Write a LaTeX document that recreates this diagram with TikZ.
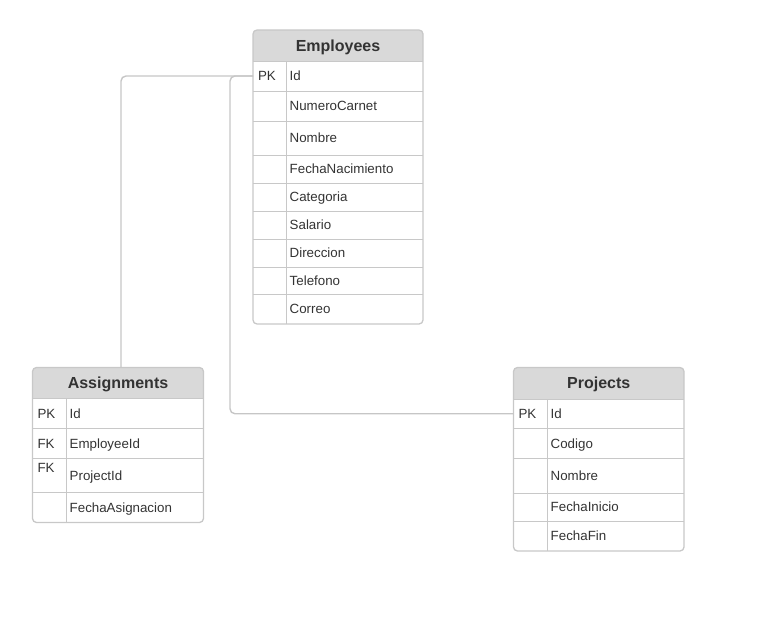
\documentclass[tikz,border=0pt]{standalone}
\usepackage{fontspec}
\setmainfont{Liberation Sans}
\usetikzlibrary{calc}
\definecolor{hdr}{HTML}{D9D9D9}
\definecolor{brd}{HTML}{C8C8C8}
\definecolor{txt}{HTML}{333333}
\definecolor{conn}{HTML}{C6C6C6}
\tikzset{
  tblframe/.style={draw=brd, line width=1.3pt, rounded corners=4pt},
  hdrfill/.style={fill=hdr},
  gridline/.style={draw=brd, line width=1pt},
  hdrtext/.style={font=\fontsize{16}{16}\selectfont\bfseries, text=txt, inner sep=0pt, anchor=base},
  bodytext/.style={font=\fontsize{13.33}{13.33}\selectfont, text=txt, inner sep=0pt, anchor=base west},
  rowbox/.style={draw=none, inner sep=0pt, outer sep=0pt},
  connector/.style={draw=conn, line width=1.4pt, rounded corners=5pt},
}
% #1 name, #2 left, #3 divider, #4 right, #5 top, #6 bottom, #7 key, #8 field
\newcommand{\erdrow}[8]{%
  \pgfmathsetmacro{\rc}{(#5+#6)/2}%
  \pgfmathsetmacro{\rx}{(#2+#4)/2}%
  \pgfmathsetmacro{\rw}{#4-#2}%
  \pgfmathsetmacro{\rh}{#6-#5}%
  \node[rowbox, minimum width=\rw pt, minimum height=\rh pt] (#1) at (\rx,\rc) {};
  \draw[gridline] (#2,#5) -- (#4,#5);
  \node[bodytext] at (#2+4.8,\rc+4.75) {#7};
  \node[bodytext] at (#3+3,\rc+4.75) {#8};
}
% #1 name, #2 left, #3 divider, #4 right, #5 top, #6 header bottom, #7 bottom, #8 title
\newcommand{\erdtable}[8]{%
  \pgfmathsetmacro{\hx}{(#2+#4)/2}%
  \pgfmathsetmacro{\hc}{(#5+#6)/2}%
  \pgfmathsetmacro{\hw}{#4-#2}%
  \pgfmathsetmacro{\hh}{#6-#5}%
  \fill[hdrfill, rounded corners=4pt] (#2,#5) rectangle (#4,#6);
  \fill[hdrfill] (#2,#5+6) rectangle (#4,#6);
  \node[rowbox, minimum width=\hw pt, minimum height=\hh pt] (#1) at (\hx,\hc) {};
  \node[hdrtext] at (\hx,\hc+5.7) {#8};
  \draw[gridline] (#3,#6) -- (#3,#7);
}
\begin{document}
\begin{tikzpicture}[x=1pt,y=-1pt]
\useasboundingbox (0,0) rectangle (762,642);

% Employees
\erdtable{emp}{253}{286.5}{423}{30}{61}{324}{Employees}
\erdrow{emp-r1}{253}{286.5}{423}{61}{91}{PK}{Id}
\erdrow{emp-r2}{253}{286.5}{423}{91}{121}{}{NumeroCarnet}
\erdrow{emp-r3}{253}{286.5}{423}{121}{155}{}{Nombre}
\erdrow{emp-r4}{253}{286.5}{423}{155}{183}{}{FechaNacimiento}
\erdrow{emp-r5}{253}{286.5}{423}{183}{211}{}{Categoria}
\erdrow{emp-r6}{253}{286.5}{423}{211}{239}{}{Salario}
\erdrow{emp-r7}{253}{286.5}{423}{239}{267}{}{Direccion}
\erdrow{emp-r8}{253}{286.5}{423}{267}{294}{}{Telefono}
\erdrow{emp-r9}{253}{286.5}{423}{294}{324}{}{Correo}
\draw[tblframe] (253,30) rectangle (423,324);

% Assignments
\erdtable{asg}{32.5}{66.5}{203.5}{367.5}{398.5}{522.5}{Assignments}
\erdrow{asg-r1}{32.5}{66.5}{203.5}{398.5}{428.5}{PK}{Id}
\erdrow{asg-r2}{32.5}{66.5}{203.5}{428.5}{458.5}{FK}{EmployeeId}
\erdrow{asg-r3}{32.5}{66.5}{203.5}{458.5}{492}{}{ProjectId}
\node[bodytext] at (37.3,472.8) {FK};
\erdrow{asg-r4}{32.5}{66.5}{203.5}{492}{522.5}{}{FechaAsignacion}
\draw[tblframe] (32.5,367.5) rectangle (203.5,522.5);

% Projects
\erdtable{prj}{513.5}{547.5}{684}{367.5}{399}{551}{Projects}
\erdrow{prj-r1}{513.5}{547.5}{684}{399}{428.5}{PK}{Id}
\erdrow{prj-r2}{513.5}{547.5}{684}{428.5}{458.5}{}{Codigo}
\erdrow{prj-r3}{513.5}{547.5}{684}{458.5}{493}{}{Nombre}
\erdrow{prj-r4}{513.5}{547.5}{684}{493}{521}{}{FechaInicio}
\erdrow{prj-r5}{513.5}{547.5}{684}{521}{551}{}{FechaFin}
\draw[tblframe] (513.5,367.5) rectangle (684,551);

% connectors
\draw[connector] (emp-r1.west) -| ($(asg.north)+(3,0)$);
\draw[connector] (emp-r1.west) -- ++(-23,0) |- (prj-r1.west);
\end{tikzpicture}
\end{document}
